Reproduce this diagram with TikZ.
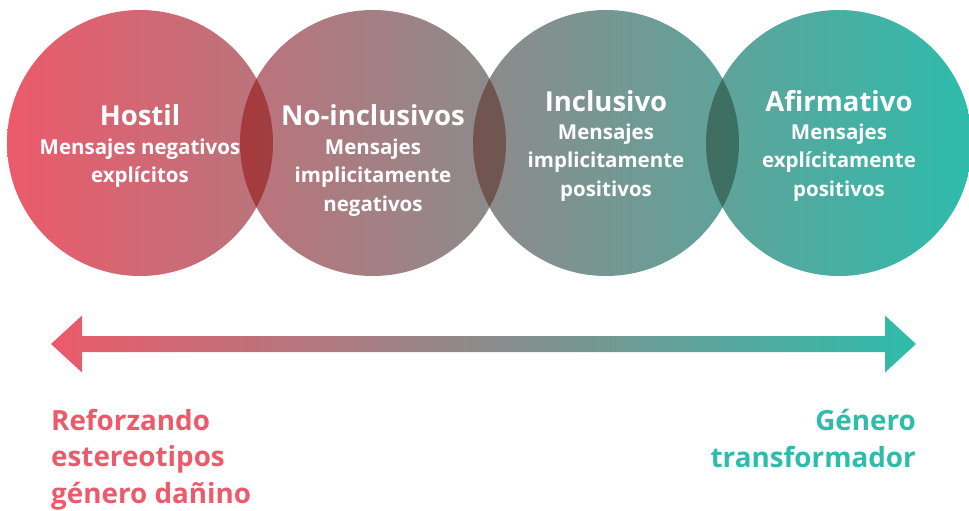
\documentclass[tikz,border=0pt]{standalone}
\usepackage{fontspec}
\setmainfont{Open Sans}
\usetikzlibrary{positioning}
\definecolor{rojo}{HTML}{EC5A6B}
\definecolor{gris}{HTML}{A8938D}
\definecolor{verde}{HTML}{2EBCAB}
\definecolor{rojoosc}{HTML}{DA202D}
\definecolor{grisosc}{HTML}{6F554E}
\definecolor{verdeosc}{HTML}{088B73}

\begin{document}
\begin{tikzpicture}[x=1pt,y=-1pt,
		titulo/.style={text=white, inner sep=0pt, anchor=base, font=\bfseries\fontsize{27.5}{30}\selectfont},
		texto/.style={text=white, inner sep=0pt, anchor=base, align=center, font=\bfseries\fontsize{20.5}{28.5}\selectfont},
		etiqueta/.style={inner sep=0pt, font=\bfseries\fontsize{27.8}{36.5}\selectfont},
		degradado/.style={left color=rojo, middle color=gris, right color=verde},
		oscuro/.style={left color=rojoosc, middle color=grisosc, right color=verdeosc}]
		\useasboundingbox (0,0) rectangle (969,511);
		
		\coordinate (hostilc) at (140,143);
		\coordinate (noinclc) at (373,143);
		\coordinate (inclc) at (606,143);
		\coordinate (afirmc) at (839,143);
		
		\begin{scope}
			\clip (hostilc) circle (133pt) (noinclc) circle (133pt) (inclc) circle (133pt) (afirmc) circle (133pt);
			\shade[degradado] (7,0) rectangle (972,290);
		\end{scope}
		\begin{scope}
			\clip (hostilc) circle (133pt);
			\clip (noinclc) circle (133pt);
			\shade[oscuro] (7,0) rectangle (972,290);
		\end{scope}
		\begin{scope}
			\clip (noinclc) circle (133pt);
			\clip (inclc) circle (133pt);
			\shade[oscuro] (7,0) rectangle (972,290);
		\end{scope}
		\begin{scope}
			\clip (inclc) circle (133pt);
			\clip (afirmc) circle (133pt);
			\shade[oscuro] (7,0) rectangle (972,290);
		\end{scope}
		
		% multi-line nodes sit on the baseline of their last line
		\node[titulo] (hostil) at (140,125) {Hostil};
		\node[texto] (hostiltxt) at (140,182.5) {Mensajes negativos\\explícitos};
		\node[titulo] (noincl) at (373,125) {No-inclusivos};
		\node[texto] (noincltxt) at (373,211) {Mensajes\\implicitamente\\negativos};
		\node[titulo] (incl) at (606,111) {Inclusivo};
		\node[texto] (incltxt) at (606,196) {Mensajes\\implicitamente\\positivos};
		\node[titulo] (afirm) at (839,111) {Afirmativo};
		\node[texto] (afirmtxt) at (839,196) {Mensajes\\explícitamente\\positivos};
		
		\coordinate (izq) at (51,344);
		\coordinate (der) at (916,344);
		\shade[degradado] (izq) -- ++(31,-28.5) -- ++(0,20.5) -- ([shift={(-31,-8)}]der) -- ++(0,-20.5) -- (der)
			-- ++(-31,28.5) -- ++(0,-20.5) -- ([shift={(31,8)}]izq) -- ++(0,20.5) -- cycle;
		
		\node[etiqueta, text=rojo, align=left, anchor=base west] (reforzando) at (51,503) {Reforzando\\estereotipos\\género dañino};
		\node[etiqueta, text=verde, align=right, anchor=base east] (transformador) at (916,467) {Género\\transformador};
		
		\end{tikzpicture}
\end{document}
